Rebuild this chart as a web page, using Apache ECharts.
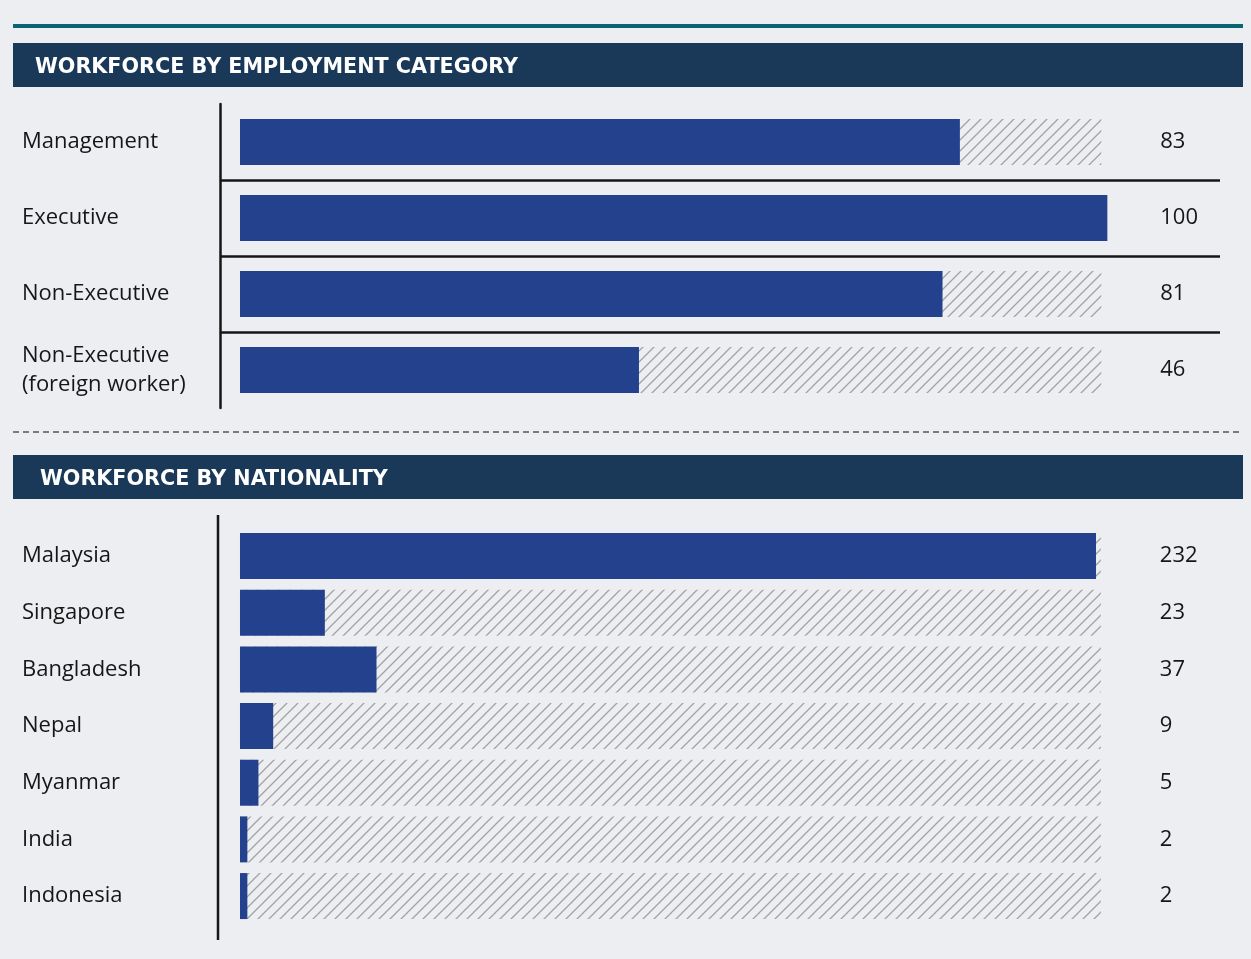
<!DOCTYPE html>
<html><head><meta charset="utf-8">
<script src="https://cdn.jsdelivr.net/npm/echarts@6/dist/echarts.min.js"></script>
<style>html,body{margin:0;padding:0;background:#edeef2}#c{width:1251px;height:959px}</style>
</head><body><div id="c"></div>
<script>
// ---- data ----
const titles = ['WORKFORCE BY EMPLOYMENT CATEGORY', 'WORKFORCE BY NATIONALITY'];
const empCategories = ['Management', 'Executive', 'Non-Executive', 'Non-Executive\n(foreign worker)'];
const empValues = [83, 100, 81, 46];
const empTrack = [99.3, 99.3, 99.3, 99.3];
const natCategories = ['Malaysia', 'Singapore', 'Bangladesh', 'Nepal', 'Myanmar', 'India', 'Indonesia'];
const natValues = [232, 23, 37, 9, 5, 2, 2];
const natTrack = [233.3, 233.3, 233.3, 233.3, 233.3, 233.3, 233.3];

// ---- styles ----
const FONT = 'Open Sans';
const TITLE_FONT = 'DejaVu Sans';
const BAR = '#23418d';
const NAVY = '#1a3858';
const INK = '#161616';

function hatchCanvas() {
  const s = 11;
  const c = document.createElement('canvas');
  c.width = s; c.height = s;
  const g = c.getContext('2d');
  g.strokeStyle = '#a2a2a2';
  g.lineWidth = 1.3;
  g.beginPath();
  g.moveTo(-1, s + 1); g.lineTo(s + 1, -1);
  g.moveTo(-1, 1); g.lineTo(1, -1);
  g.moveTo(s - 1, s + 1); g.lineTo(s + 1, s - 1);
  g.stroke();
  return c;
}
const hatch = { image: hatchCanvas(), repeat: 'repeat' };

const chart = echarts.init(document.getElementById('c'));

function catAxis(gridIndex, data, margin, showLines) {
  return {
    type: 'category', gridIndex, data, inverse: true,
    axisLine: { show: showLines, onZero: false, lineStyle: { color: INK, width: 2.5 } },
    axisTick: { show: false },
    axisLabel: { align: 'left', margin, fontSize: 22, color: INK, fontFamily: FONT, lineHeight: 29 },
    splitLine: { show: showLines, showMinLine: false, showMaxLine: false, lineStyle: { color: INK, width: 2.5 } }
  };
}
function trackSeries(idx, data, values) {
  return {
    type: 'bar', xAxisIndex: idx, yAxisIndex: idx, data, barWidth: 46, barGap: '-100%',
    itemStyle: { color: hatch }, silent: true,
    label: { show: true, position: 'right', distance: 59, formatter: p => String(values[p.dataIndex]),
      fontSize: 22, color: INK, fontFamily: FONT }
  };
}
function valueSeries(idx, data) {
  return { type: 'bar', xAxisIndex: idx, yAxisIndex: idx, data, barWidth: 46, barGap: '-100%',
    itemStyle: { color: BAR } };
}

chart.setOption({
  backgroundColor: '#edeef2',
  animation: false,
  grid: [
    { left: 220, width: 1000, top: 104, height: 304 },
    { left: 218, width: 1002, top: 527.7, height: 396.7 }
  ],
  xAxis: [
    { type: 'value', gridIndex: 0, min: -2.306, max: 112.99, show: false },
    { type: 'value', gridIndex: 1, min: -5.96, max: 265.6, show: false }
  ],
  yAxis: [
    catAxis(0, empCategories, 198, true),
    catAxis(1, natCategories, 196, false)
  ],
  series: [
    trackSeries(0, empTrack, empValues),
    valueSeries(0, empValues),
    trackSeries(1, natTrack, natValues),
    valueSeries(1, natValues)
  ],
  graphic: [
    { type: 'rect', shape: { x: 13, y: 24, width: 1230, height: 4 }, style: { fill: '#0b6470' } },
    { type: 'rect', shape: { x: 13, y: 43, width: 1230, height: 44 }, style: { fill: NAVY } },
    { type: 'text', x: 35, y: 67.5, style: { text: titles[0], fill: '#fff', fontSize: 20.7, fontWeight: 'bold', fontFamily: TITLE_FONT, verticalAlign: 'middle' } },
    { type: 'line', shape: { x1: 13, y1: 432, x2: 1243, y2: 432 }, style: { stroke: '#555', lineWidth: 1.5, lineDash: [6, 4] } },
    { type: 'rect', shape: { x: 13, y: 455, width: 1230, height: 44 }, style: { fill: NAVY } },
    { type: 'text', x: 40, y: 479.5, style: { text: titles[1], fill: '#fff', fontSize: 20.7, fontWeight: 'bold', fontFamily: TITLE_FONT, verticalAlign: 'middle' } },
    { type: 'line', shape: { x1: 218, y1: 515, x2: 218, y2: 940 }, style: { stroke: INK, lineWidth: 2.5 } }
  ]
});
</script>
</body></html>
